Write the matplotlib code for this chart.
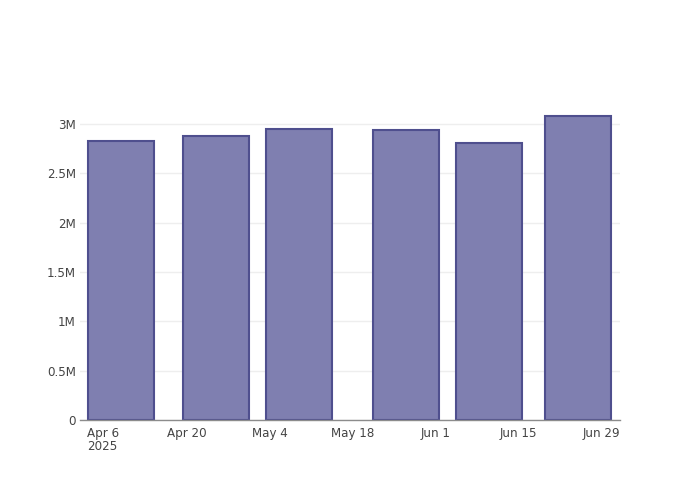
import matplotlib
matplotlib.use("Agg")
import matplotlib.pyplot as plt
import matplotlib.dates as mdates
import datetime as dt

# Data
dates = ["2025-04-09", "2025-04-25", "2025-05-09", "2025-05-27", "2025-06-10", "2025-06-25"]
values = [2827000, 2885000, 2955000, 2944000, 2812000, 3086000]
tick_dates = ["2025-04-06", "2025-04-20", "2025-05-04", "2025-05-18", "2025-06-01", "2025-06-15", "2025-06-29"]
tick_labels = ["Apr 6\n2025", "Apr 20", "May 4", "May 18", "Jun 1", "Jun 15", "Jun 29"]
y_ticks = [0, 500000, 1000000, 1500000, 2000000, 2500000, 3000000]
y_labels = ["0", "0.5M", "1M", "1.5M", "2M", "2.5M", "3M"]

plt.rcParams['font.family'] = ['DejaVu Sans']
fig = plt.figure(figsize=(7, 5), dpi=100)
ax = fig.add_axes([80/700, 80/500, 540/700, 320/500])

xd = [mdates.date2num(dt.datetime.fromisoformat(d)) for d in dates]
width = 0.8 * 14
ax.bar(xd, values, width=width, color='#7f7fb0', edgecolor='#4f4f8e', linewidth=1.5, zorder=3)

t0 = mdates.date2num(dt.datetime.fromisoformat(tick_dates[0]))
t1 = mdates.date2num(dt.datetime.fromisoformat(tick_dates[-1]))
ax.set_xlim(t0 - 3.96, t1 + 3.09)
ax.set_ylim(0, 3245000)

tx = [mdates.date2num(dt.datetime.fromisoformat(d)) for d in tick_dates]
ax.set_xticks(tx)
ax.set_xticklabels(tick_labels, ha='center', va='top', linespacing=1.05)
ax.set_yticks(y_ticks)
ax.set_yticklabels(y_labels)

ax.tick_params(axis='x', length=0, pad=5, labelsize=8.6, colors='#444444')
ax.tick_params(axis='y', length=0, pad=3, labelsize=8.6, colors='#444444')
for lbl in ax.get_xticklabels():
    lbl.set_multialignment('left')

ax.grid(axis='y', color='#eeeeee', linewidth=1, zorder=0)
ax.grid(axis='x', visible=False)
for s in ['top', 'right', 'left']:
    ax.spines[s].set_visible(False)
ax.spines['bottom'].set_color('#8c8c8c')
ax.spines['bottom'].set_linewidth(1)
ax.spines['bottom'].set_zorder(4)

fig.savefig("out.png", dpi=100)
